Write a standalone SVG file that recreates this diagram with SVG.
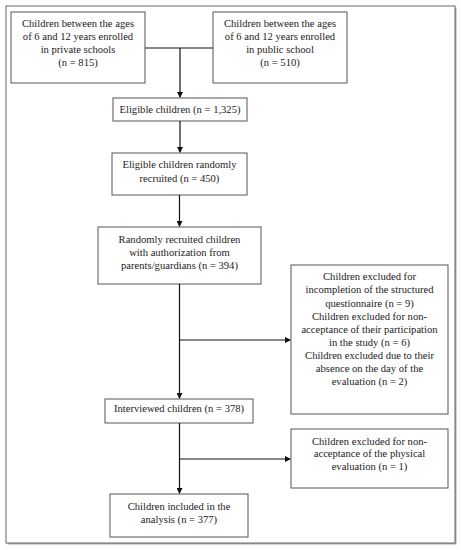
<svg xmlns="http://www.w3.org/2000/svg" width="462" height="550" viewBox="0 0 462 550">
<defs>
<style>
.box{fill:#fff;stroke:#555;stroke-width:1}
.t{font-family:"Liberation Serif","DejaVu Serif",serif;font-size:10.6px;fill:#222;text-anchor:middle}
.c{fill:none;stroke:#111;stroke-width:1.2}
</style>
<marker id="ah" markerWidth="6" markerHeight="6" refX="5" refY="3" orient="auto" markerUnits="userSpaceOnUse">
<path d="M0,0 L6,3 L0,6 Z" fill="#111"/>
</marker>
</defs>
<rect width="462" height="550" fill="#fff"/>
<rect x="7.5" y="7.5" width="449" height="537" fill="#aaa"/>
<rect x="6" y="6" width="449" height="537" fill="#fff" stroke="#666" stroke-width="1"/>
<g id="n1"><rect class="box" x="11" y="12" width="134" height="71"/>
<text class="t" x="78" y="26.5">Children between the ages</text>
<text class="t" x="78" y="39.5">of 6 and 12 years enrolled</text>
<text class="t" x="78" y="52.5">in private schools</text>
<text class="t" x="78" y="65.5">(n = 815)</text></g>
<g id="n2"><rect class="box" x="213" y="12" width="134" height="71"/>
<text class="t" x="280" y="26.5">Children between the ages</text>
<text class="t" x="280" y="39.5">of 6 and 12 years enrolled</text>
<text class="t" x="280" y="52.5">in public school</text>
<text class="t" x="280" y="65.5">(n = 510)</text></g>
<g id="n3"><rect class="box" x="113" y="98" width="134" height="23"/>
<text class="t" x="180" y="113">Eligible children (n = 1,325)</text></g>
<g id="n4"><rect class="box" x="112" y="153" width="135" height="42"/>
<text class="t" x="179.5" y="167.5">Eligible children randomly</text>
<text class="t" x="179.5" y="181.5">recruited (n = 450)</text></g>
<g id="n5"><rect class="box" x="98" y="227" width="163" height="57"/>
<text class="t" x="179.5" y="242.5">Randomly recruited children</text>
<text class="t" x="179.5" y="255.5">with authorization from</text>
<text class="t" x="179.5" y="269">parents/guardians (n = 394)</text></g>
<g id="n6"><rect class="box" x="291" y="265" width="157" height="149"/>
<text class="t" x="369.5" y="279.5">Children excluded for</text>
<text class="t" x="369.5" y="293">incompletion of the structured</text>
<text class="t" x="369.5" y="306.5">questionnaire (n = 9)</text>
<text class="t" x="369.5" y="320">Children excluded for non-</text>
<text class="t" x="369.5" y="333">acceptance of their participation</text>
<text class="t" x="369.5" y="346">in the study (n = 6)</text>
<text class="t" x="369.5" y="359">Children excluded due to their</text>
<text class="t" x="369.5" y="372">absence on the day of the</text>
<text class="t" x="369.5" y="385">evaluation (n = 2)</text></g>
<g id="n7"><rect class="box" x="105" y="399" width="148" height="24"/>
<text class="t" x="179" y="411.5">Interviewed children (n = 378)</text></g>
<g id="n8"><rect class="box" x="291" y="429" width="157" height="59"/>
<text class="t" x="369.5" y="444.5">Children excluded for non-</text>
<text class="t" x="369.5" y="457">acceptance of the physical</text>
<text class="t" x="369.5" y="470">evaluation (n = 1)</text></g>
<g id="n9"><rect class="box" x="110" y="494" width="138" height="43"/>
<text class="t" x="179" y="509.5">Children included in the</text>
<text class="t" x="179" y="522.5">analysis (n = 377)</text></g>
<g id="connectors">
<path class="c" d="M145,48 H213"/>
<path class="c" d="M180,48 V97" marker-end="url(#ah)"/>
<path class="c" d="M180,121 V152" marker-end="url(#ah)"/>
<path class="c" d="M179.5,195 V226" marker-end="url(#ah)"/>
<path class="c" d="M179.5,284 V398" marker-end="url(#ah)"/>
<path class="c" d="M179.5,340 H290" marker-end="url(#ah)"/>
<path class="c" d="M179.5,423 V493" marker-end="url(#ah)"/>
<path class="c" d="M179.5,459 H290" marker-end="url(#ah)"/>
</g>
</svg>
